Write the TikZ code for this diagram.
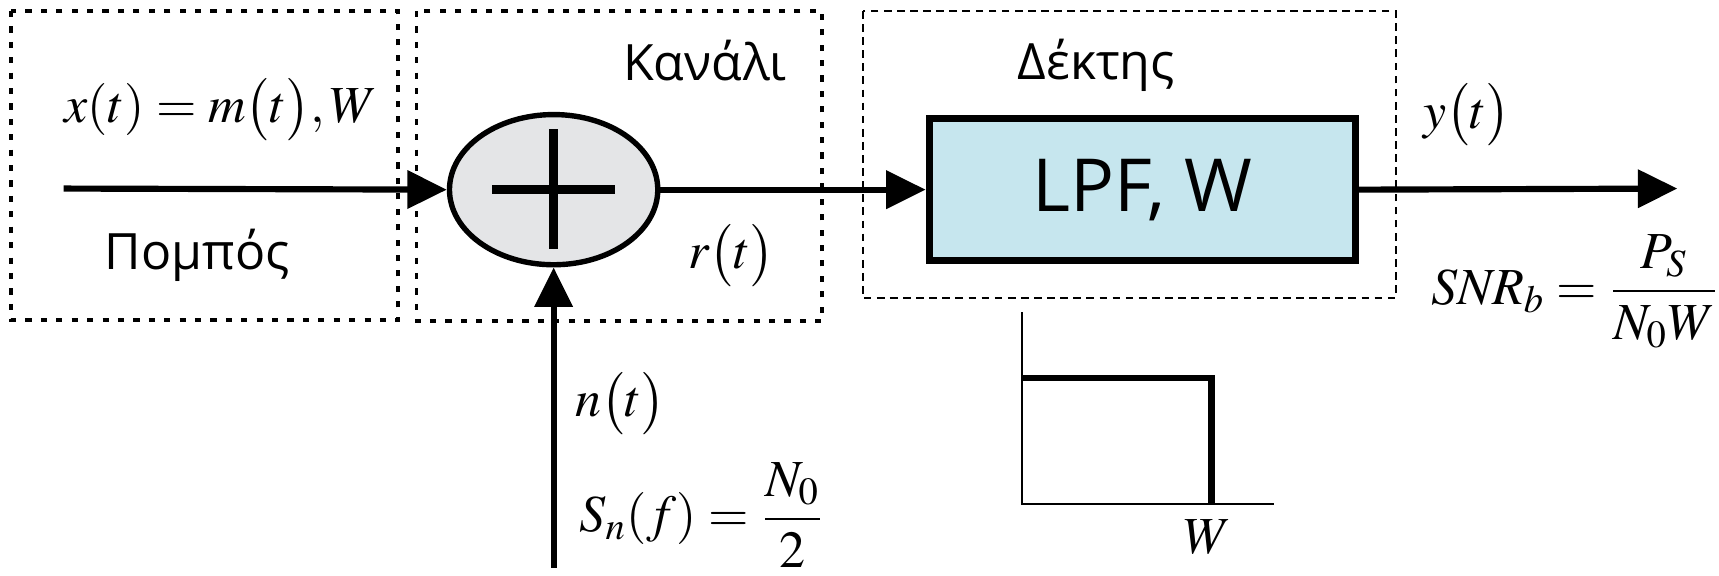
\documentclass[tikz,border=0pt]{standalone}
\usepackage{amsmath}
\usepackage{mathptmx}
\usepackage[no-math]{fontspec}
\usepackage{tikz}
\usetikzlibrary{arrows.meta,shapes.geometric}
\newfontfamily\grfont{Open Sans}
\definecolor{lpfblue}{RGB}{198,230,238}
\definecolor{addgray}{RGB}{228,229,231}

\begin{document}
\begin{tikzpicture}[x=0.1mm,y=-0.1mm,
    groupbox/.style={line width=0.9pt, dash pattern=on 1.6pt off 2.4pt},
    rxbox/.style={line width=0.5pt, dash pattern=on 2pt off 1.4pt},
    sig/.style={line width=1.6pt, -{Triangle[length=3.6mm,width=3.4mm]}},
    adder/.style={ellipse, draw, line width=1.4pt, fill=addgray,
        minimum width=19mm, minimum height=13.7mm, inner sep=0pt},
    lpf/.style={rectangle, draw, line width=1.8pt, fill=lpfblue,
        minimum width=38.9mm, minimum height=13mm, font=\grfont\fontsize{19}{22}\selectfont},
    txt/.style={font=\grfont\fontsize{13}{15}\selectfont},
    lbl/.style={font=\fontsize{13.5}{16}\selectfont, inner sep=0pt}]
    \useasboundingbox (0,0) rectangle (1568,525);

    % ομάδες: πομπός, κανάλι, δέκτης
    \draw[groupbox] (10,10) rectangle (363,292);
    \draw[groupbox] (380,10) rectangle (750,293);
    \draw[rxbox] (787,10) rectangle (1273,272);

    \node[adder] (sum) at (505,173) {};
    \draw[line width=2.2pt] ([xshift=-5.6mm]sum.center) -- ([xshift=5.6mm]sum.center);
    \draw[line width=2.2pt] ([yshift=5.5mm]sum.center) -- ([yshift=-5.4mm]sum.center);
    \node[lpf] (lpf) at (1042,173) {LPF, W};

    \coordinate (src) at (58,172);
    \coordinate (out) at (1530,172);
    \coordinate (noise) at (505,518);

    \draw[sig] (src) -- (sum.west);
    \draw[sig] (sum.east) -- (lpf.west);
    \draw[sig] (lpf.east) -- (out);
    \draw[sig] (noise) -- (sum.south);

    \node[lbl, anchor=west] (xlbl) at (58,100) {$x(t)=m\bigl(t\bigr),W$};
    \node[txt] (tx) at (180,233) {Πομπός};
    \node[txt] (ch) at (643,55) {Κανάλι};
    \node[lbl] (rlbl) at (667,233) {$r\bigl(t\bigr)$};
    \node[txt] (rx) at (1000,60) {Δέκτης};
    \node[lbl] (ylbl) at (1338,105) {$y\bigl(t\bigr)$};
    \node[lbl, anchor=west] (snr) at (1305,266) {$\mathit{SNR}_b=\dfrac{P_S}{N_0W}$};
    \node[lbl] (nlbl) at (566,368) {$n\bigl(t\bigr)$};
    \node[lbl, anchor=west] (psd) at (528,470) {$S_n(f)=\dfrac{N_0}{2}$};

    % απόκριση του φίλτρου
    \draw[line width=0.5pt] (932,285) -- (932,460) -- (1162,460);
    \draw[line width=1.6pt] (932,345) -- (1105,345) -- (1105,460);
    \node[lbl] (wlbl) at (1102,490) {$W$};
\end{tikzpicture}
\end{document}
